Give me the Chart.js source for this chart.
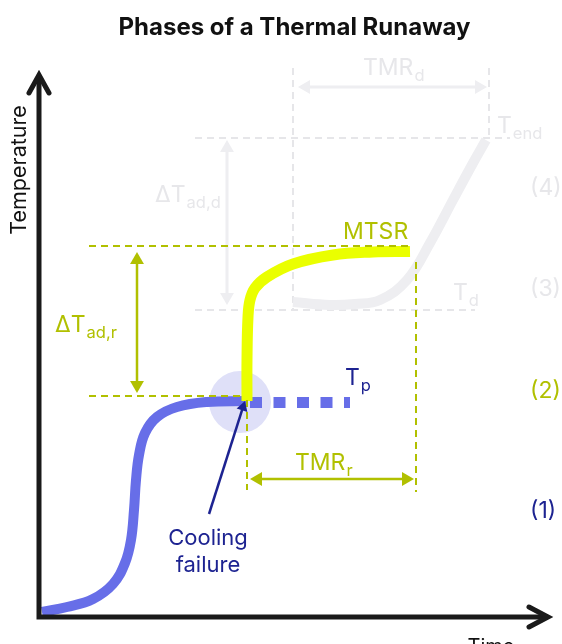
<!DOCTYPE html>
<html>
<head>
<meta charset="utf-8">
<script src="https://cdn.jsdelivr.net/npm/chart.js@4.4.1/dist/chart.umd.min.js"></script>
<style>
	html, body { margin: 0; padding: 0; background: #fff; }
</style>
</head>
<body>
<canvas id="chart" width="562" height="644"></canvas>
<script>
const FONT = 'Inter, "Noto Sans", sans-serif'

// (1)-(2): reaction temperature up to the cooling failure
const processTime = [0.6, 5.6, 10.8, 14.8, 17.2, 18.4, 19, 19.4, 20, 21.2, 23.6, 27.6, 33.6, 41.4]
const processTemp = [1, 2, 3.6, 6.6, 10.8, 15.4, 21.4, 27.4, 32.4, 36.8, 40, 42, 43, 43.2]
// process temperature if cooling had kept working
const tpTime = [42.2, 62.2]
const tpTemp = [42.9, 42.9]
// (3): adiabatic rise of the desired reaction up to MTSR
const runawayTime = [41.6, 41.6, 41.8, 42.2, 43.2, 45.6, 50.8, 58.8, 66.8, 74.2]
const runawayTemp = [43.2, 51.4, 60, 63.4, 65.8, 68, 70.6, 72.4, 73, 73.1]
// (4): decomposition from Td to Tend
const decompTime = [50.8, 58.2, 63.2, 68.2, 73.6, 78.2, 82.8, 86.8, 89.4]
const decompTemp = [63, 62.4, 62.6, 63.4, 67.4, 74.8, 83.4, 90.8, 95.4]

// levels and times of the dashed guides
const levelTp = 44.2
const levelMTSR = 74.2
const levelTd = 61.4
const levelTend = 95.8
const timeFailure = 41.6
const timeMTSR = 75.4
const timeTd = 50.8
const timeEnd = 90

const BLUE = '#676ee8'
const NAVY = '#1d2391'
const YELLOW = '#eaff00'
const OLIVE = '#b1c000'
const GRAY = '#eeeef1'
const GRAY_TXT = '#e7e7ea'
const AXIS = '#1a1a1a'

const pts = (xs, ys) => xs.map((x, i) => ({ x, y: ys[i] }))

function curve(xs, ys, color, width, order, extra) {
	return Object.assign({
		data: pts(xs, ys),
		borderColor: color,
		borderWidth: width,
		pointRadius: 0,
		fill: false,
		clip: false,
		order,
	}, extra || {})
}

function dashed(xs, ys, color, order) {
	return curve(xs, ys, color, 2, order, { borderDash: [7, 5] })
}

function arrow(xs, ys, color, rot, order, radius = [8, 8], width = 2.5) {
	return curve(xs, ys, color, width, order, {
		pointStyle: 'triangle',
		pointRadius: radius,
		pointRotation: rot,
		pointBackgroundColor: color,
		pointBorderColor: color,
		pointBorderWidth: 0,
	})
}

const datasets = [
	// circle round the cooling failure
	curve([40.2], [43], '#dfe0f8', 0, 20, {
		showLine: false, pointRadius: 31, pointBackgroundColor: '#dfe0f8', pointBorderWidth: 0,
	}),
	// gray (decomposition) guides
	dashed([timeTd, timeTd], [109.8, levelTd], '#e6e6e9', 19),
	dashed([timeEnd, timeEnd], [109.8, levelTend], '#e6e6e9', 19),
	dashed([31.2, 94.2], [levelTend, levelTend], '#e6e6e9', 19),
	dashed([31.2, 87.2], [levelTd, levelTd], '#e6e6e9', 19),
	arrow([53.4, 88], [106, 106], GRAY, [270, 90], 18, [8, 8], 3),
	arrow([37.6, 37.6], [93.8, 64], GRAY, [0, 180], 18, [8, 8], 3),
	curve(decompTime, decompTemp, GRAY, 10, 17, { tension: 0.4 }),
	// process curves
	curve(processTime, processTemp, BLUE, 10, 10, { tension: 0.4 }),
	curve(tpTime, tpTemp, BLUE, 11, 10, { borderDash: [12, 11.5] }),
	curve(runawayTime, runawayTemp, YELLOW, 11, 9, { tension: 0.4 }),
	// olive guides
	dashed([10, 74.4], [levelMTSR, levelMTSR], OLIVE, 5),
	dashed([10, 41.2], [levelTp, levelTp], OLIVE, 5),
	dashed([timeFailure, timeFailure], [43.4, 25.4], OLIVE, 5),
	dashed([timeMTSR, timeMTSR], [71, 25], OLIVE, 5),
	arrow([19.6, 19.6], [71.4, 46.4], OLIVE, [0, 180], 4),
	arrow([43.8, 73.4], [27.6, 27.6], OLIVE, [270, 90], 4),
	// cooling failure pointer
	arrow([34, 40.8], [20.6, 41.96], NAVY, [0, 17.7], 3, [0, 6.5], 2.5),
]

const labels = [
	{ text: 'TMR', sub: 'd', x: 64.8, y: 108.4, color: GRAY_TXT },
	{ text: 'T', sub: 'end', x: 91.6, y: 96.8, color: GRAY_TXT },
	{ text: '(4)', x: 98.2, y: 84.4, color: GRAY_TXT },
	{ text: '(3)', x: 98.2, y: 64.2, color: GRAY_TXT },
	{ text: 'T', sub: 'd', x: 82.8, y: 63.4, color: GRAY_TXT },
	{ text: '\u0394T', sub: 'ad,d', x: 23.2, y: 83, color: GRAY_TXT },
	{ text: 'MTSR', x: 60.8, y: 75.6, color: OLIVE },
	{ text: '\u0394T', sub: 'ad,r', x: 3.2, y: 57, color: OLIVE },
	{ text: 'TMR', sub: 'r', x: 51.2, y: 29.4, color: OLIVE },
	{ text: '(2)', x: 98.2, y: 43.8, color: OLIVE },
	{ text: 'T', sub: 'p', x: 61.2, y: 46.4, color: NAVY },
	{ text: '(1)', x: 98.2, y: 19.8, color: NAVY },
	{ text: 'Cooling', x: 33.8, y: 14.4, color: NAVY, align: 'center', size: 22 },
	{ text: 'failure', x: 33.8, y: 9, color: NAVY, align: 'center', size: 22 },
]

const axesPlugin = {
	id: 'axes',
	afterDatasetsDraw(chart) {
		const { ctx, chartArea: a } = chart
		ctx.save()
		ctx.strokeStyle = AXIS
		ctx.lineWidth = 5
		ctx.lineCap = 'butt'
		ctx.beginPath()
		ctx.moveTo(a.left, a.bottom + 2.5)
		ctx.lineTo(a.left, a.top + 2)
		ctx.moveTo(a.left - 2.5, a.bottom)
		ctx.lineTo(a.right - 2, a.bottom)
		ctx.stroke()
		ctx.lineCap = 'round'
		ctx.lineJoin = 'miter'
		ctx.beginPath()
		ctx.moveTo(a.left - 10, a.top + 20)
		ctx.lineTo(a.left, a.top + 2)
		ctx.lineTo(a.left + 10, a.top + 20)
		ctx.moveTo(a.right - 21, a.bottom - 10)
		ctx.lineTo(a.right - 2, a.bottom)
		ctx.lineTo(a.right - 21, a.bottom + 10)
		ctx.stroke()

		ctx.fillStyle = '#111'
		ctx.font = `20px ${FONT}`
		ctx.textAlign = 'center'
		ctx.textBaseline = 'alphabetic'
		ctx.fillText('Time', 491, a.bottom + 36)
		ctx.font = `21.5px ${FONT}`
		ctx.translate(20, 170)
		ctx.rotate(-Math.PI / 2)
		ctx.textBaseline = 'middle'
		ctx.fillText('Temperature', 0, 0)
		ctx.restore()
	},
}

const labelsPlugin = {
	id: 'labels',
	afterDatasetsDraw(chart) {
		const { ctx, scales } = chart
		ctx.save()
		ctx.textBaseline = 'alphabetic'
		labels.forEach(l => {
			const x = scales.x.getPixelForValue(l.x)
			const y = scales.y.getPixelForValue(l.y)
			ctx.fillStyle = l.color
			ctx.textAlign = l.align || 'left'
			ctx.font = `${l.size || 23}px ${FONT}`
			ctx.fillText(l.text, x, y)
			if (l.sub) {
				const w = ctx.measureText(l.text).width
				ctx.font = `16.5px ${FONT}`
				ctx.fillText(l.sub, x + w + 1, y + 6)
			}
		})
		ctx.restore()
	},
}

new Chart(document.getElementById('chart'), {
	type: 'line',
	data: { datasets },
	options: {
		responsive: false,
		animation: false,
		devicePixelRatio: 1,
		events: [],
		layout: { autoPadding: false, padding: { left: 39, right: 12, top: 0, bottom: 27 } },
		scales: {
			x: { type: 'linear', min: 0, max: 102.2, display: false },
			y: { type: 'linear', min: 0, max: 108.8, display: false },
		},
		plugins: {
			legend: { display: false },
			tooltip: { enabled: false },
			title: {
				display: true,
				text: 'Phases of a Thermal Runaway',
				color: '#111',
				font: { family: FONT, size: 24, weight: 'bold' },
				padding: { top: 13, bottom: 31.2 },
			},
		},
	},
	plugins: [axesPlugin, labelsPlugin],
})
</script>
</body>
</html>
